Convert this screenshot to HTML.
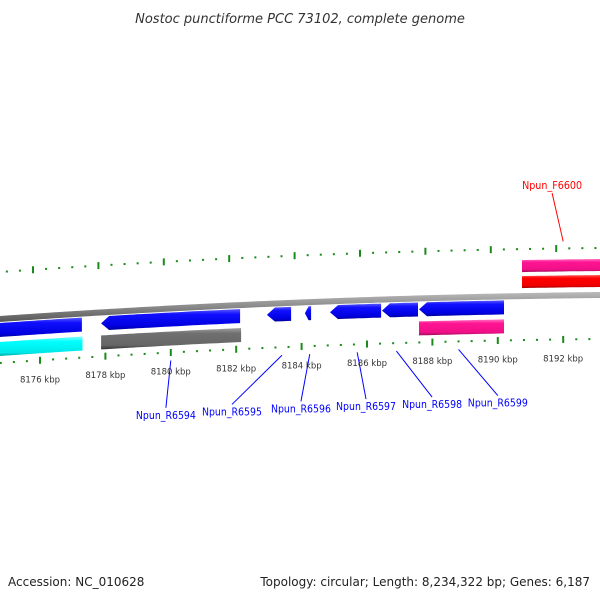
<!DOCTYPE html>
<html><head><meta charset="utf-8"><style>
body{margin:0;background:#fff}
svg{display:block;font-family:"DejaVu Sans","Liberation Sans",sans-serif}
</style></head><body>
<svg id="chart" width="600" height="600" viewBox="0 0 600 600">
<defs>
<linearGradient id="gblue" x1="0" y1="0" x2="0" y2="1"><stop offset="0" stop-color="#5a5aff"/><stop offset="0.25" stop-color="#1010ff"/><stop offset="0.8" stop-color="#0000e0"/><stop offset="1" stop-color="#00009a"/></linearGradient>
<linearGradient id="gcyan" x1="0" y1="0" x2="0" y2="1"><stop offset="0" stop-color="#80ffff"/><stop offset="0.25" stop-color="#00ffff"/><stop offset="0.8" stop-color="#00e8e8"/><stop offset="1" stop-color="#009a9a"/></linearGradient>
<linearGradient id="ggray" x1="0" y1="0" x2="0" y2="1"><stop offset="0" stop-color="#a0a0a0"/><stop offset="0.25" stop-color="#707070"/><stop offset="0.8" stop-color="#666"/><stop offset="1" stop-color="#333"/></linearGradient>
<linearGradient id="gpink" x1="0" y1="0" x2="0" y2="1"><stop offset="0" stop-color="#ff70c0"/><stop offset="0.25" stop-color="#ff1493"/><stop offset="0.8" stop-color="#f01088"/><stop offset="1" stop-color="#a00a5a"/></linearGradient>
<linearGradient id="gred" x1="0" y1="0" x2="0" y2="1"><stop offset="0" stop-color="#ff6060"/><stop offset="0.25" stop-color="#ff0000"/><stop offset="0.8" stop-color="#f00000"/><stop offset="1" stop-color="#a00000"/></linearGradient>
<linearGradient id="gback" x1="0" y1="0" x2="0" y2="1"><stop offset="0" stop-color="#bbb"/><stop offset="0.5" stop-color="#888"/><stop offset="1" stop-color="#555"/></linearGradient>
</defs>
<text x="300" y="23" text-anchor="middle" font-style="italic" font-size="13" fill="#333">Nostoc punctiforme PCC 73102, complete genome</text>
<g id="layer"></g>
<text x="8" y="586" font-size="12" fill="#222">Accession: NC_010628</text>
<text x="590" y="586" text-anchor="end" font-size="12" fill="#222">Topology: circular; Length: 8,234,322 bp; Genes: 6,187</text>
</svg>
<script>
// gene data (kbp)
const geneNames = ["", "", "Npun_R6594", "", "Npun_R6595", "Npun_R6596", "Npun_R6597", "Npun_R6598", "Npun_R6599", "", "Npun_F6600", ""];
const geneStart = [8174.5, 8174.5, 8177.87, 8177.87, 8182.94, 8184.10, 8184.87, 8186.46, 8187.59, 8187.59, 8190.74, 8190.74];
const geneEnd   = [8177.28, 8177.30, 8182.12, 8182.15, 8183.68, 8184.29, 8186.43, 8187.56, 8190.19, 8190.19, 8193.5, 8193.5];
const geneTrack = [1, 2, 1, 2, 1, 1, 1, 1, 1, 2, -1, -2];
const geneStrand = [0, 0, -1, 0, -1, -1, -1, -1, -1, 0, 0, 0];
const geneColor = ["gblue","gcyan","gblue","ggray","gblue","gblue","gblue","gblue","gblue","gpink","gpink","gred"];
const labelKbp = [8180.0, 8183.4, 8184.25, 8185.7, 8186.9, 8188.8, 8192.0];
const labelTextKbp = [8179.85, 8181.87, 8183.98, 8185.97, 8187.99, 8190.0, 8191.66];
const labelNames = ["Npun_R6594","Npun_R6595","Npun_R6596","Npun_R6597","Npun_R6598","Npun_R6599","Npun_F6600"];
const majorTicks = [8176, 8178, 8180, 8182, 8184, 8186, 8188, 8190, 8192];
const tickLabels = ["8176 kbp","8178 kbp","8180 kbp","8182 kbp","8184 kbp","8186 kbp","8188 kbp","8190 kbp","8192 kbp"];

const NS = "http://www.w3.org/2000/svg";
const layer = document.getElementById("layer");
const xs = k => 40 + (k - 8176) * 32.7;
const base = x => 294.5 + 0.00005 * (x - 700) * (x - 700);
function mk(tag, attrs){const e=document.createElementNS(NS,tag);for(const a in attrs)e.setAttribute(a,attrs[a]);layer.appendChild(e);return e;}

// backbone
(function(){
  let top=[],bot=[];
  for(let x=-5;x<=605;x+=5){top.push(x+","+(base(x)-3));bot.unshift(x+","+(base(x)+3));}
  const p=mk("polygon",{points:top.concat(bot).join(" "),fill:"url(#gback)"});
  
  
})();

// ticks
for(let k=8174.4;k<=8194;k+=0.4){
  const kk=Math.round(k*10)/10;
  const major=majorTicks.some(m=>Math.abs(m-kk)<0.01);
  const x=xs(kk);
  const len=major?7:2;
  const yi=base(x)+44;
  const t1=mk("line",{x1:x,y1:yi-len/2,x2:x,y2:yi+len/2,stroke:"#1a8a1a","stroke-width":2});
  
  
  const xo=x-7;
  const t2=mk("line",{x1:xo,y1:base(xo)-47-len/2,x2:xo,y2:base(xo)-47+len/2,stroke:"#1a8a1a","stroke-width":2});
  
  
}
majorTicks.forEach((m,i)=>{
  const x=xs(m);
  const t=mk("text",{x:x,y:base(x)+66,"text-anchor":"middle","font-size":"8.5",fill:"#333"});
  t.textContent=tickLabels[i];
  
  
});

// genes
geneStart.forEach((s,i)=>{
  const x0=xs(s), x1=xs(geneEnd[i]);
  const tr=geneTrack[i];
  let o0,o1;
  if(tr===1){o0=4;o1=18;}else if(tr===2){o0=23;o1=37;}else if(tr===-1){o0=-36;o1=-24;}else{o0=-20;o1=-8;}
  const ah=Math.min(8,(x1-x0)*0.6);
  let top=[],bot=[];
  const xa=geneStrand[i]<0?x0+ah:x0;
  for(let x=xa;x<=x1;x+=4){top.push([x,base(x)+o0]);bot.unshift([x,base(x)+o1]);}
  top.push([x1,base(x1)+o0]);bot.unshift([x1,base(x1)+o1]);
  let pts=top.concat(bot);
  if(geneStrand[i]<0) pts.push([x0,base(x0)+(o0+o1)/2]);
  const p=mk("polygon",{points:pts.map(q=>q[0].toFixed(1)+","+q[1].toFixed(1)).join(" "),fill:"url(#"+geneColor[i]+")"});
  
  
});

// labels
labelNames.forEach((n,i)=>{
  const red=n.indexOf("F")===5;
  const col=red?"#ff0000":"#0000ff";
  const xg=xs(labelKbp[i]), xt=xs(labelTextKbp[i]);
  let y1,y2,ty;
  if(red){y1=base(xg)-54;y2=193;ty=189;}
  else{y1=base(xg)+52;ty=base(xt)+110;y2=ty-11;}
  const l=mk("line",{x1:xg,y1:y1,x2:xt,y2:y2,stroke:col,"stroke-width":1});
  
  
  const t=mk("text",{x:xt-30,y:ty,"font-size":"10.5",fill:col,textLength:"60",lengthAdjust:"spacingAndGlyphs"});
  t.textContent=n;
  
  
});
</script>
</body></html>
